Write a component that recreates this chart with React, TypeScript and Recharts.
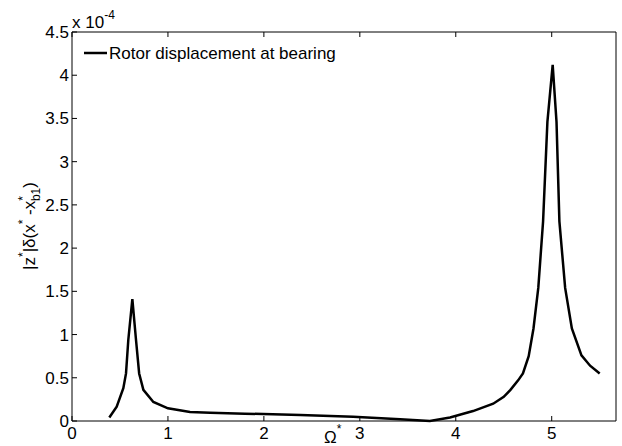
import { LineChart, Line, XAxis, YAxis, Label } from 'recharts'

// rotor speed Ω* (dimensionless)
const omega = [
  0.389, 0.466, 0.535, 0.563, 0.587, 0.629, 0.667, 0.7, 0.744, 0.848, 1.0,
  1.23, 1.44, 1.8, 2.38, 2.93, 3.42, 3.73, 3.94, 4.18, 4.39, 4.5, 4.57, 4.65, 4.7,
  4.76, 4.81, 4.86, 4.91, 4.955, 5.01, 5.05, 5.08, 5.14, 5.21, 5.31, 5.4, 5.5,
]
// |z*| at bearing, in units of 1e-4
const amplitude = [
  0.04, 0.165, 0.38, 0.55, 0.94, 1.41, 0.94, 0.55, 0.36, 0.22, 0.147,
  0.104, 0.096, 0.085, 0.07, 0.05, 0.02, 0.0, 0.04, 0.115, 0.2, 0.28, 0.36, 0.47, 0.55,
  0.75, 1.07, 1.54, 2.31, 3.46, 4.12, 3.46, 2.31, 1.54, 1.07, 0.76, 0.64, 0.55,
]

const xTicks = [0, 1, 2, 3, 4, 5]
const yTicks = [0, 0.5, 1, 1.5, 2, 2.5, 3, 3.5, 4, 4.5]
const legendText = 'Rotor displacement at bearing'

const data = omega.map((w, i) => ({ w, a: amplitude[i] }))

const FONT = '"Liberation Sans", Arial, sans-serif'
const TICK = 5

const BottomTick = ({ x, y, payload }: any) => (
  <g>
    <line x1={x} y1={y} x2={x} y2={y - TICK} stroke="#000" />
    <text x={x} y={y + 18} textAnchor="middle" fontSize={17} fontFamily={FONT} fill="#000">
      {payload.value}
    </text>
  </g>
)

const LeftTick = ({ x, y, payload }: any) => (
  <g>
    <line x1={x} y1={y} x2={x + TICK} y2={y} stroke="#000" />
    <text x={x - 3} y={y + 6} textAnchor="end" fontSize={17} fontFamily={FONT} fill="#000">
      {payload.value}
    </text>
  </g>
)

const TopTick = ({ x, y }: any) => <line x1={x} y1={y} x2={x} y2={y + TICK} stroke="#000" />
const RightTick = ({ x, y }: any) => <line x1={x} y1={y} x2={x - TICK} y2={y} stroke="#000" />

const YTitle = () => (
  <g fontFamily={FONT} fill="#000">
    <text x={0} y={0} transform="translate(35 226) rotate(-90)" textAnchor="middle" fontSize={17}>
      <tspan>|z</tspan>
      <tspan fontSize={12} dy={-8}>*</tspan>
      <tspan dy={8}>|δ(x</tspan>
      <tspan fontSize={12} dy={-8}>*</tspan>
      <tspan dy={8}> -x</tspan>
      <tspan fontSize={12} dy={-8}>*</tspan>
      <tspan fontSize={12} dx={-5} dy={13}>b1</tspan>
      <tspan dy={-5}>)</tspan>
    </text>
    <text x={72} y={28} fontSize={17}>
      x 10
      <tspan fontSize={12} dy={-9}>-4</tspan>
    </text>
  </g>
)

const XTitle = () => (
  <g fontFamily={FONT} fill="#000">
    <text x={324} y={443} fontSize={17}>
      Ω<tspan fontSize={12} dy={-10}>*</tspan>
    </text>
    <line x1={84} y1={53} x2={107} y2={53} stroke="#000" strokeWidth={2.5} />
    <text x={109} y={59} fontSize={17}>{legendText}</text>
  </g>
)

export default function App() {
  return (
    <div style={{ position: 'absolute', left: 0, top: 0, background: '#fff' }}>
      <LineChart width={622} height={446} data={data} margin={{ top: 31, right: 5, left: 71, bottom: 24 }}>
        <XAxis
          dataKey="w"
          type="number"
          domain={[0, 5.67]}
          ticks={xTicks}
          height={1}
          tickSize={0}
          tickMargin={0}
          tick={<BottomTick />}
          axisLine={{ stroke: '#000' }}
          interval={0}
        >
          <Label content={<XTitle />} />
        </XAxis>
        <XAxis
          xAxisId="top"
          orientation="top"
          dataKey="w"
          type="number"
          domain={[0, 5.67]}
          ticks={xTicks}
          height={1}
          tickSize={0}
          tickMargin={0}
          tick={<TopTick />}
          axisLine={{ stroke: '#000' }}
          interval={0}
        />
        <YAxis
          type="number"
          domain={[0, 4.5]}
          ticks={yTicks}
          width={1}
          tickSize={0}
          tickMargin={0}
          tick={<LeftTick />}
          axisLine={{ stroke: '#000' }}
          interval={0}
        >
          <Label content={<YTitle />} />
        </YAxis>
        <YAxis
          yAxisId="right"
          orientation="right"
          type="number"
          domain={[0, 4.5]}
          ticks={yTicks}
          width={1}
          tickSize={0}
          tickMargin={0}
          tick={<RightTick />}
          axisLine={{ stroke: '#000' }}
          interval={0}
        />
        <Line
          dataKey="a"
          type="linear"
          stroke="#000"
          strokeWidth={2.5}
          dot={false}
          isAnimationActive={false}
        />
      </LineChart>
    </div>
  )
}
